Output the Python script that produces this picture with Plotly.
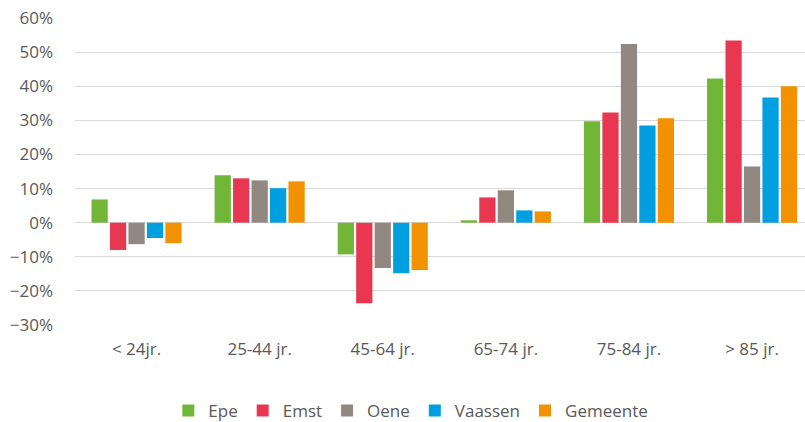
import plotly.graph_objects as go

categories = ["< 24jr.", "25-44 jr.", "45-64 jr.", "65-74 jr.", "75-84 jr.", "> 85 jr."]
epe = [6.8, 13.9, -9.3, 0.7, 29.7, 42.3]
emst = [-8.0, 13.0, -23.6, 7.4, 32.3, 53.4]
oene = [-6.3, 12.4, -13.3, 9.5, 52.4, 16.5]
vaassen = [-4.5, 10.1, -14.8, 3.6, 28.5, 36.7]
gemeente = [-6.0, 12.1, -13.9, 3.3, 30.6, 40.0]

series = [
    ("Epe", epe, "#72B637"),
    ("Emst", emst, "#E83851"),
    ("Oene", oene, "#918882"),
    ("Vaassen", vaassen, "#00A0E0"),
    ("Gemeente", gemeente, "#F39200"),
]

fig = go.Figure()
for name, vals, col in series:
    fig.add_trace(go.Bar(name=name, x=categories, y=[v / 100 for v in vals],
                         marker=dict(color=col, line=dict(width=0))))

font = "'Open Sans', sans-serif"
fig.update_layout(
    width=805, height=422,
    margin=dict(l=75, r=0, t=18, b=97, autoexpand=False),
    plot_bgcolor="white", paper_bgcolor="white",
    barmode="group", bargap=0.25, bargroupgap=0.12,
    font=dict(family=font, size=17, color="#595959"),
    showlegend=True,
    legend=dict(orientation="h",
                x=0.46, xanchor="center", y=-0.28, yanchor="middle",
                font=dict(size=17, color="#595959"), itemwidth=30,
                traceorder="normal"),
    xaxis=dict(showgrid=False, showline=False, zeroline=False,
               range=[-0.5, 5.43], ticks="", ticklabelstandoff=12),
    yaxis=dict(range=[-0.30, 0.60], tickvals=[-0.3, -0.2, -0.1, 0, 0.1, 0.2, 0.3, 0.4, 0.5, 0.6],
               tickformat=".0%", showgrid=True, gridcolor="#D9D9D9", gridwidth=1.3,
               zeroline=True, zerolinecolor="#D9D9D9", zerolinewidth=1.3,
               showline=False, ticks="", ticklabelstandoff=21),
)

fig.write_html("out.html", config={"displayModeBar": False},
               post_script="document.body.style.margin='0';document.body.style.overflow='hidden';")
